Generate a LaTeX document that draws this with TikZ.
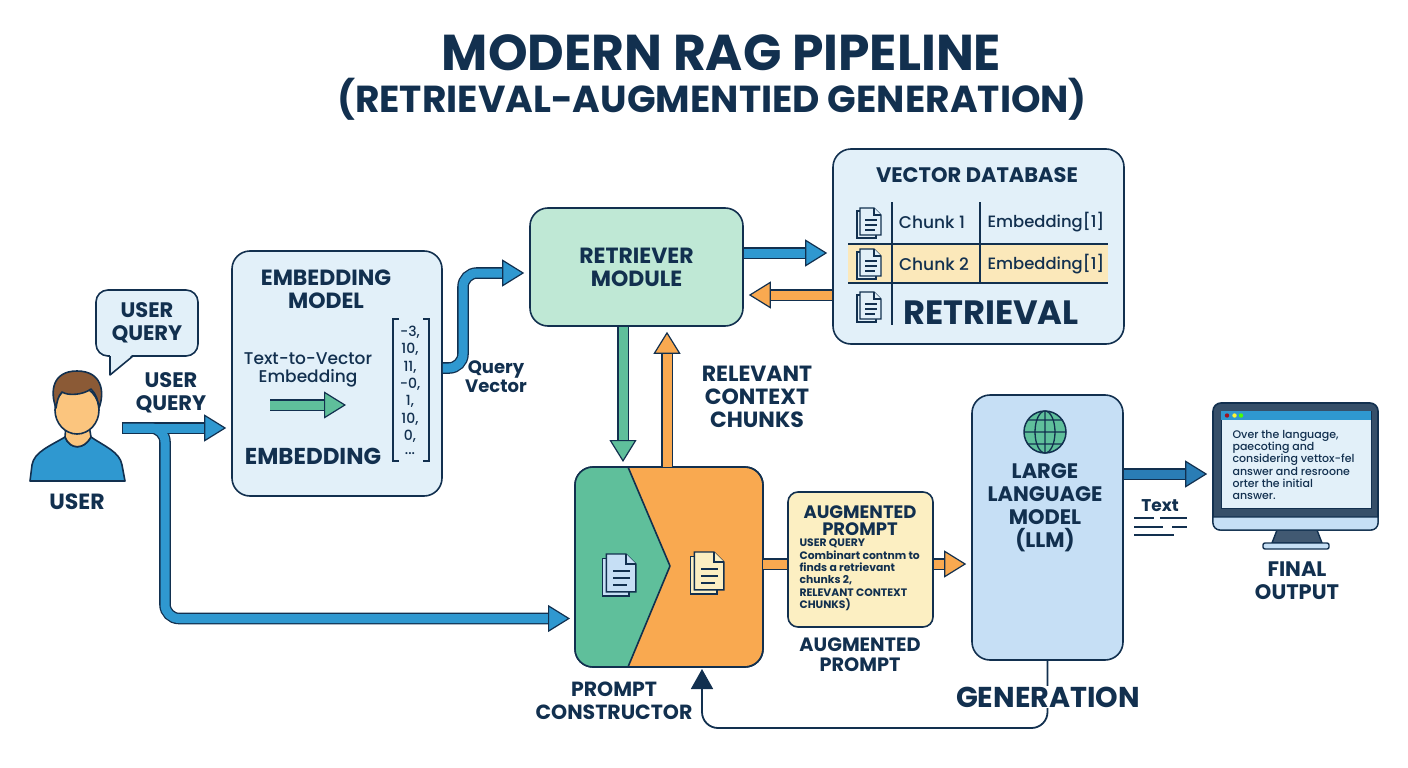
\documentclass[tikz,border=0pt]{standalone}
\usepackage{fontspec}
\setmainfont{Poppins}
\newfontfamily\medfont{Poppins Medium}
\usetikzlibrary{arrows.meta}
\definecolor{navy}{HTML}{12304F}
\definecolor{cblue}{HTML}{2F98D0}
\definecolor{dblue}{HTML}{2A7DB5}
\definecolor{cgreen}{HTML}{5FBF9B}
\definecolor{corange}{HTML}{F9A950}
\definecolor{cskin}{HTML}{FBC57E}
\definecolor{chair}{HTML}{8B5A36}
\definecolor{lblue}{HTML}{E2F0F9}
\definecolor{mblue}{HTML}{C6DFF5}
\definecolor{lgreen}{HTML}{BFE8D5}
\definecolor{lyellow}{HTML}{FCEFC2}
\definecolor{hyellow}{HTML}{FBE8BA}
\newcommand{\fs}[2]{\fontsize{#1}{#2}\selectfont}
\begin{document}
\begin{tikzpicture}[x=1pt,y=-1pt,every node/.style={align=center}]
        \tikzset{
          box/.style={draw=navy,line width=1.6pt,rounded corners=18pt,inner sep=0pt},
          lbl/.style={font=\bfseries\fs{21}{23},text=navy},
          small/.style={font=\medfont\fs{17}{18},text=navy},
          boutline/.style={draw=navy,line width=11.6pt,shorten >=18pt,arrows=-},
          binner/.style={draw=#1,line width=9pt,shorten >=5pt,
            -{Triangle[length=22pt,width=27pt,line width=1.2pt,color=navy,fill=#1]}},
          barrow/.style={preaction={boutline},binner=#1},
          bline/.style={draw=#1,line width=9pt,preaction={boutline,shorten >=0pt}},
          docicon/.pic={
            \draw[pic actions] (-12,-12) rectangle (7,15);
            \draw[pic actions] (-9,-15) -- (5,-15) -- (12,-8) -- (12,12) -- (-9,12) -- cycle;
            \draw[pic actions] (5,-15) -- (5,-8) -- (12,-8);
            \draw[navy] (-4,-3) -- (8,-3) (-4,2) -- (8,2) (-4,7) -- (6,7);
          },
        }
        \useasboundingbox (0,0) rectangle (1408,768);
        \node [font=\bfseries\fs{50.4}{54},text=navy] (title) at (721.5,53) {MODERN RAG PIPELINE};
        \node [font=\bfseries\fs{37.6}{40},text=navy] (subtitle) at (712,99) {(RETRIEVAL-AUGMENTIED GENERATION)};
        % user
        \draw [navy,line width=1.6pt,fill=cblue,line join=round] (30,481) -- (32,465) .. controls (34,452) and (50,446) .. (65,437)
          .. controls (70,450) and (84,450) .. (91,437) .. controls (104,446) and (120,452) .. (122,465) -- (125,481) -- cycle;
        \draw [navy,line width=1.6pt,fill=cskin] (66,425) -- (65,437) .. controls (70,450) and (84,450) .. (91,437) -- (89,425) -- cycle;
        \draw [navy,line width=1.6pt,fill=cskin] (77,410) ellipse (22pt and 24pt);
        \draw [navy,line width=1.6pt,fill=chair,line join=round] (56,408) .. controls (50,392) and (52,371) .. (77,371)
          .. controls (102,371) and (105,392) .. (99,408) .. controls (98,400) and (96,394) .. (91,389)
          .. controls (83,395) and (68,396) .. (62,392) .. controls (58,396) and (57,402) .. (56,408) -- cycle;
        \node [lbl,font=\bfseries\fs{22}{23}] (user) at (77,502) {USER};
        \node [box,fill=lblue,rounded corners=12pt,minimum width=102pt,minimum height=66pt,lbl] (bubble) at (147,323) {USER\\QUERY};
        \fill [lblue] (110,354) -- (110,375) -- (133,354) -- cycle;
        \draw [navy,line width=1.6pt,line join=round] (110,356) -- (110,375) -- (133,356);
        \node [lbl] (uq) at (171,393) {USER\\QUERY};
        % boxes
        \node [box,fill=lblue,minimum width=210pt,minimum height=245pt] (embed) at (337,373.5) {};
        \node [box,fill=lgreen,minimum width=213pt,minimum height=118pt,lbl,font=\bfseries\fs{22}{23}] (retr) at (636.5,267) {RETRIEVER\\MODULE};
        \node [box,fill=lblue,minimum width=291pt,minimum height=195pt] (vdb) at (978.5,246.5) {};
        \node [box,fill=corange,minimum width=188pt,minimum height=200pt,outer sep=0pt] (prompt) at (669,567) {};
        \node [box,fill=lyellow,rounded corners=10pt,minimum width=145pt,minimum height=135pt] (augm) at (860.5,559.5) {};
        \node [box,fill=mblue,minimum width=151pt,minimum height=265pt] (llm) at (1047.5,527.5) {};
        \begin{scope}
          \clip [rounded corners=18pt] (prompt.south west) rectangle (prompt.north east);
          \fill [cgreen] (560,460) -- (628,467) -- (670,566) -- (628,667) -- (560,680) -- cycle;
        \end{scope}
        \draw [navy,line width=1.6pt,line join=round] (628,467) -- (670,566) -- (628,667);
        \draw [navy,line width=1.6pt,rounded corners=18pt] (prompt.south west) rectangle (prompt.north east);
        \pic [fill=mblue,draw=navy,line width=1.4pt,scale=1.4] (dblue) at (619,575) {docicon};
        \pic [fill=lyellow,draw=navy,line width=1.4pt,scale=1.4] (dyel) at (707,573) {docicon};
        % arrows
        \coordinate (userq) at (123,428);
        \draw [boutline,shorten <=-1.2pt] (userq) -- ([yshift=-54.5pt]embed.west);
        \draw [barrow=cblue,rounded corners=14pt] (userq) -- (165,428) -- (165,618.5) -- ([yshift=-51.5pt]prompt.west);
        \draw [binner=cblue] (userq) -- ([yshift=-54.5pt]embed.west);
        \draw [barrow=cblue,rounded corners=14pt] ([yshift=5.5pt]embed.east) -- (463,368) -- (463,273) -- ([yshift=-6pt]retr.west);
        \draw [barrow=cblue] ([yshift=14pt]retr.east) -- ([yshift=-6.5pt]vdb.west);
        \draw [barrow=corange] ([yshift=-48.5pt]vdb.west) -- ([yshift=-28pt]retr.east);
        \draw [barrow=cgreen] ([xshift=-13.5pt]retr.south) -- ([xshift=-46pt]prompt.north);
        \draw [barrow=corange] ([xshift=-2pt]prompt.north) -- ([xshift=30.5pt]retr.south);
        \draw [bline=corange] ([yshift=3pt]prompt.east) -- ([yshift=-4.5pt]augm.west);
        \draw [barrow=corange] ([yshift=-4.5pt]augm.east) -- ([yshift=-36.5pt]llm.west);
        \draw [navy,line width=1.8pt,rounded corners=16pt,-{Triangle[length=20pt,width=22pt]}] (llm.south) -- (1047.5,728) -- (702,728) -- (702,669);
        \node [fill=white,inner sep=1pt,font=\bfseries\fs{28.7}{30},text=navy] (gen) at (1048,697) {GENERATION};
        % embedding
        \node [lbl,font=\bfseries\fs{22}{23}] (embtitle) at (326,289) {EMBEDDING\\MODEL};
        \node [small,font=\medfont\fs{17}{18.5}] (t2v) at (308,370) {Text-to-Vector\\Embedding};
        \coordinate (gstart) at (270,405);
        \coordinate (gend) at (351,405);
        \draw [barrow=cgreen] (gstart) -- (gend);
        \node [font=\bfseries\fs{23}{24},text=navy] (emblbl) at (313,456) {EMBEDDING};
        \draw [navy,line width=1.2pt] (399,319) -- (393,319) -- (393,461) -- (399,461);
        \draw [navy,line width=1.2pt] (423,319) -- (429,319) -- (429,461) -- (423,461);
        \foreach \val/\ypos in {{-3,}/332,{10,}/349,{11,}/367,{-0,}/384,{1,}/401,{10,}/419,{0,}/436,{...}/454}{
          \node [font=\medfont\fs{14}{15},text=navy] (num\ypos) at (410,\ypos) {\val};
        }
        \node [small,font=\bfseries\fs{18}{19.5}] (qv) at (496,376.5) {Query\\Vector};
        % database
        \node [font=\bfseries\fs{21}{23},text=navy] (vdbtitle) at (977,175) {VECTOR DATABASE};
        \fill [hyellow] (848,244) rectangle (1108,283);
        \draw [navy,line width=1.3pt] (848,244) -- (1108,244) (848,283) -- (1108,283);
        \draw [navy,line width=1.3pt] (892,202) -- (892,325) (980,202) -- (980,283);
        \pic [fill=lblue,draw=navy,line width=1.1pt] (d1) at (869,223) {docicon};
        \pic [fill=lblue,draw=navy,line width=1.1pt] (d2) at (869,264) {docicon};
        \pic [fill=lblue,draw=navy,line width=1.1pt] (d3) at (869,307) {docicon};
        \node [small] (c1) at (932,222) {Chunk 1};
        \node [small] (c2) at (934,264) {Chunk 2};
        \node [small,font=\medfont\fs{16.4}{18}] (e1) at (1046,222) {Embedding[1]};
        \node [small,font=\medfont\fs{16.4}{18}] (e2) at (1046,264) {Embedding[1]};
        \node [font=\bfseries\fs{33.7}{35},text=navy] (retrlbl) at (991,313) {RETRIEVAL};
        \node [lbl,font=\bfseries\fs{22}{23}] (rcc) at (757,397) {RELEVANT\\CONTEXT\\CHUNKS};
        % prompt
        \node [lbl,font=\bfseries\fs{20.5}{23}] (pc) at (614,700.5) {PROMPT\\CONSTRUCTOR};
        \node [font=\bfseries\fs{18}{17.5},text=navy] (augtitle) at (860,520.5) {AUGMENTED\\PROMPT};
        \node [align=left,anchor=west,font=\bfseries\fs{10.8}{12.4},text=navy] (augtext) at (796,575) {USER QUERY\\Combinart contnm to\\finds a retrievant\\chunks 2,\\RELEVANT CONTEXT\\CHUNKS)};
        \node [font=\bfseries\fs{19.3}{20},text=navy] (auglbl) at (860,655) {AUGMENTED\\PROMPT};
        % llm
        \draw [navy,line width=1.5pt,fill=cgreen] (1045,432) circle (21pt);
        \draw [navy,line width=1.3pt] (1045,432) ellipse (10pt and 21pt) (1045,411) -- (1045,453) (1024,432) -- (1066,432) (1028,420) -- (1062,420) (1028,444) -- (1062,444);
        \node [lbl] (llmlbl) at (1045,508) {LARGE\\LANGUAGE\\MODEL\\(LLM)};
        % monitor
        \draw [navy,line width=1.4pt,fill=navy!80!white] (1277,530) -- (1317,530) -- (1322,543) -- (1272,543) -- cycle;
        \draw [navy,line width=1.4pt,fill=mblue,rounded corners=2pt] (1263,543) rectangle (1329,549);
        \node [box,fill=navy!85!white,rounded corners=8pt,minimum width=165pt,minimum height=127pt] (mon) at (1295.5,466.5) {};
        \draw [navy,line width=1.4pt,fill=mblue] (1213,517) -- (1378,517) [rounded corners=7pt] -- (1378,530) -- (1213,530) [sharp corners] -- cycle;
        \node [draw=navy,fill=lblue,minimum width=150pt,minimum height=97pt,inner sep=0pt] (screen) at (1296,459.5) {};
        \fill [cblue] (1221,411) rectangle (1371,420);
        \fill [red!60!navy] (1227,415.5) circle (2.2pt);
        \fill [yellow!80!white] (1234.5,415.5) circle (2.2pt);
        \fill [green!70!yellow] (1241,415.5) circle (2.2pt);
        \node [align=left,anchor=west,font=\medfont\fs{11}{12.1},text=navy] (scrtxt) at (1229,465) {Over the language,\\paecoting and\\considering vettox-fel\\answer and resroone\\orter the initial\\answer.};
        \draw [barrow=dblue] ([yshift=53.5pt]llm.east) -- ([yshift=-7.5pt]mon.west);
        \node [small,font=\bfseries\fs{17}{19}] (txt) at (1160,506) {Text};
        \draw [navy,line width=1.2pt] (1134,518) -- (1154,518) (1160,518) -- (1187,518) (1134,527) -- (1163,527) (1172,527) -- (1187,527) (1134,535) -- (1174,535);
        \node [lbl] (finout) at (1297,581) {FINAL\\OUTPUT};
\end{tikzpicture}
\end{document}
